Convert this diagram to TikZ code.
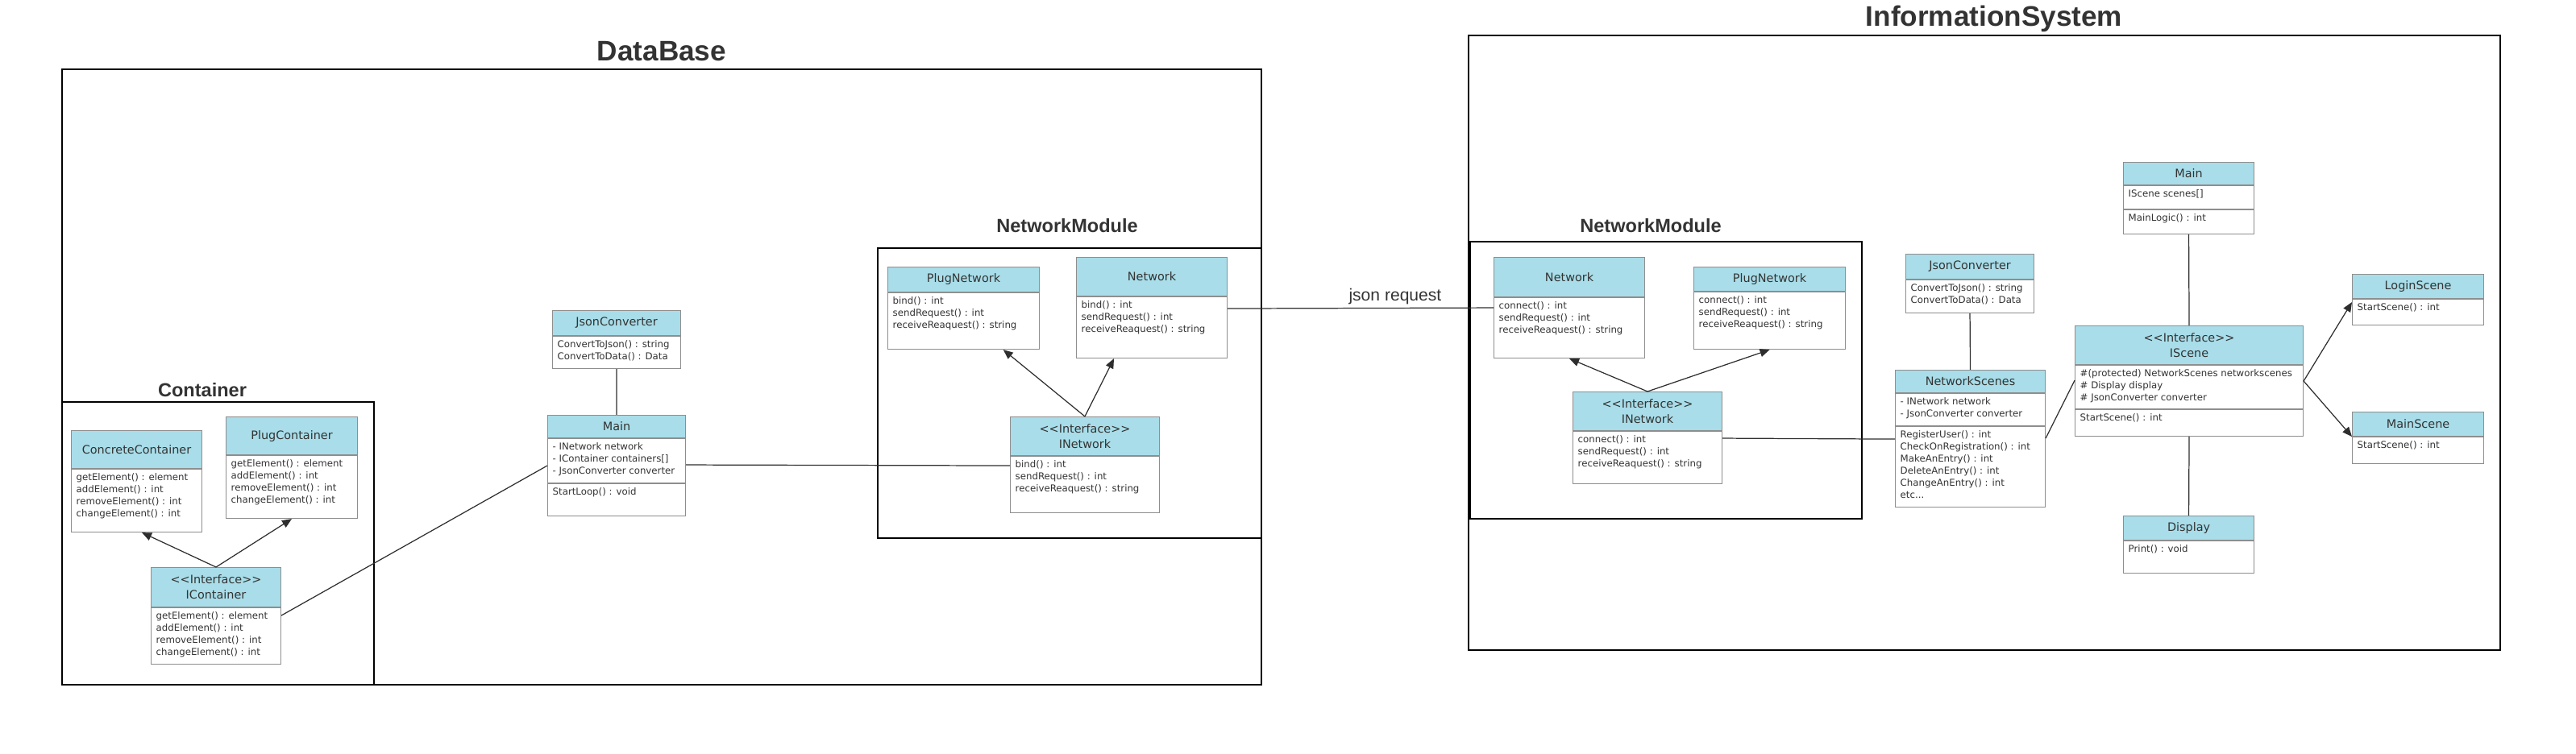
\documentclass[tikz,border=0pt]{standalone}
\usepackage{fontspec}
\usetikzlibrary{calc,arrows.meta}

\newfontfamily\umlfont{DejaVu Sans}[Ligatures=TeXOff]
\newfontfamily\titlefont{Liberation Sans}

\definecolor{headcyan}{HTML}{A8DDE9}
\definecolor{boxgray}{HTML}{8E8E8E}
\definecolor{textgray}{HTML}{333333}
\definecolor{linegray}{HTML}{2E2E2E}

\tikzset{
  umlhead/.style={draw=boxgray, line width=0.3pt, fill=headcyan, anchor=north west, inner sep=0.02cm,
    align=center, text=textgray, font=\umlfont\fontsize{4.1}{5.4}\selectfont},
  umlbody/.style={draw=boxgray, line width=0.3pt, fill=white, anchor=north west, inner sep=0pt},
  umltext/.style={anchor=north west, inner xsep=0.06cm, inner ysep=0.05cm, align=left,
    text=textgray, font=\umlfont\fontsize{3.35}{4.27}\selectfont},
  pkgframe/.style={draw=black, line width=0.55pt},
  pkgtitle/.style={anchor=base, text=textgray, font=\titlefont\bfseries\fontsize{10}{12}\selectfont},
  subtitle/.style={anchor=base, text=textgray, font=\titlefont\bfseries\fontsize{6.7}{8}\selectfont},
  assoc/.style={draw=linegray, line width=0.35pt},
  impl/.style={assoc, -{Triangle[length=0.12cm,width=0.1cm]}}
}

\begin{document}
\begin{tikzpicture}
  \useasboundingbox (0,0) rectangle (31.96,-9.36);

  % packages
  \draw[pkgframe] (0.77,-0.86) rectangle (15.65,-8.50);
  \node[pkgtitle] (dbtitle) at (8.21,-0.76) {DataBase};
  \draw[pkgframe] (0.77,-4.99) rectangle (4.64,-8.50);
  \node[subtitle] (cttitle) at (2.51,-4.93) {Container};
  \draw[pkgframe] (10.89,-3.08) rectangle (15.65,-6.68);
  \node[subtitle] (nmtitle) at (13.24,-2.89) {NetworkModule};
  \draw[pkgframe] (18.22,-0.44) rectangle (31.02,-8.07);
  \node[pkgtitle] (istitle) at (24.74,-0.33) {InformationSystem};
  \draw[pkgframe] (18.24,-3.00) rectangle (23.10,-6.44);
  \node[subtitle] (nm2title) at (20.48,-2.89) {NetworkModule};

  % DataBase classes
  \node[umlhead, minimum width=1.62cm, minimum height=0.47cm] (cc) at (0.88,-5.34) {ConcreteContainer};
  \node[umlbody, minimum width=1.62cm, minimum height=0.78cm] (cc-b) at (cc.south west) {};
  \node[umltext] (cc-t) at (cc-b.north west) {getElement() : element\\addElement() : int\\removeElement() : int\\changeElement() : int};

  \node[umlhead, minimum width=1.63cm, minimum height=0.47cm] (pc) at (2.80,-5.17) {PlugContainer};
  \node[umlbody, minimum width=1.63cm, minimum height=0.78cm] (pc-b) at (pc.south west) {};
  \node[umltext] (pc-t) at (pc-b.north west) {getElement() : element\\addElement() : int\\removeElement() : int\\changeElement() : int};

  \node[umlhead, minimum width=1.61cm, minimum height=0.49cm] (ic) at (1.87,-7.04) {<<Interface>>\\IContainer};
  \node[umlbody, minimum width=1.61cm, minimum height=0.70cm] (ic-b) at (ic.south west) {};
  \node[umltext] (ic-t) at (ic-b.north west) {getElement() : element\\addElement() : int\\removeElement() : int\\changeElement() : int};

  \node[umlhead, minimum width=1.59cm, minimum height=0.31cm] (jc) at (6.85,-3.85) {JsonConverter};
  \node[umlbody, minimum width=1.59cm, minimum height=0.40cm] (jc-b) at (jc.south west) {};
  \node[umltext] (jc-t) at (jc-b.north west) {ConvertToJson() : string\\ConvertToData() : Data};

  \node[umlhead, minimum width=1.71cm, minimum height=0.28cm] (main) at (6.79,-5.15) {Main};
  \node[umlbody, minimum width=1.71cm, minimum height=0.55cm] (main-a) at (main.south west) {};
  \node[umltext] (main-at) at (main-a.north west) {- INetwork network\\- IContainer containers[]\\- JsonConverter converter};
  \node[umlbody, minimum width=1.71cm, minimum height=0.40cm] (main-b) at (main-a.south west) {};
  \node[umltext] (main-bt) at (main-b.north west) {StartLoop() : void};

  \node[umlhead, minimum width=1.88cm, minimum height=0.31cm] (pn) at (11.01,-3.31) {PlugNetwork};
  \node[umlbody, minimum width=1.88cm, minimum height=0.70cm] (pn-b) at (pn.south west) {};
  \node[umltext] (pn-t) at (pn-b.north west) {bind() : int\\sendRequest() : int\\receiveReaquest() : string};

  \node[umlhead, minimum width=1.87cm, minimum height=0.48cm] (nw) at (13.35,-3.19) {Network};
  \node[umlbody, minimum width=1.87cm, minimum height=0.76cm] (nw-b) at (nw.south west) {};
  \node[umltext] (nw-t) at (nw-b.north west) {bind() : int\\sendRequest() : int\\receiveReaquest() : string};

  \node[umlhead, minimum width=1.85cm, minimum height=0.48cm] (in) at (12.53,-5.17) {<<Interface>>\\INetwork};
  \node[umlbody, minimum width=1.85cm, minimum height=0.70cm] (in-b) at (in.south west) {};
  \node[umltext] (in-t) at (in-b.north west) {bind() : int\\sendRequest() : int\\receiveReaquest() : string};

  % InformationSystem classes
  \node[umlhead, minimum width=1.87cm, minimum height=0.49cm] (nw2) at (18.53,-3.19) {Network};
  \node[umlbody, minimum width=1.87cm, minimum height=0.75cm] (nw2-b) at (nw2.south west) {};
  \node[umltext] (nw2-t) at (nw2-b.north west) {connect() : int\\sendRequest() : int\\receiveReaquest() : string};

  \node[umlhead, minimum width=1.88cm, minimum height=0.30cm] (pn2) at (21.01,-3.31) {PlugNetwork};
  \node[umlbody, minimum width=1.88cm, minimum height=0.71cm] (pn2-b) at (pn2.south west) {};
  \node[umltext] (pn2-t) at (pn2-b.north west) {connect() : int\\sendRequest() : int\\receiveReaquest() : string};

  \node[umlhead, minimum width=1.85cm, minimum height=0.48cm] (in2) at (19.51,-4.86) {<<Interface>>\\INetwork};
  \node[umlbody, minimum width=1.85cm, minimum height=0.65cm] (in2-b) at (in2.south west) {};
  \node[umltext] (in2-t) at (in2-b.north west) {connect() : int\\sendRequest() : int\\receiveReaquest() : string};

  \node[umlhead, minimum width=1.59cm, minimum height=0.31cm] (jc2) at (23.64,-3.15) {JsonConverter};
  \node[umlbody, minimum width=1.59cm, minimum height=0.41cm] (jc2-b) at (jc2.south west) {};
  \node[umltext] (jc2-t) at (jc2-b.north west) {ConvertToJson() : string\\ConvertToData() : Data};

  \node[umlhead, minimum width=1.86cm, minimum height=0.28cm] (ns) at (23.51,-4.59) {NetworkScenes};
  \node[umlbody, minimum width=1.86cm, minimum height=0.40cm] (ns-a) at (ns.south west) {};
  \node[umltext] (ns-at) at (ns-a.north west) {- INetwork network\\- JsonConverter converter};
  \node[umlbody, minimum width=1.86cm, minimum height=1.00cm] (ns-b) at (ns-a.south west) {};
  \node[umltext] (ns-bt) at (ns-b.north west) {RegisterUser() : int\\CheckOnRegistration() : int\\MakeAnEntry() : int\\DeleteAnEntry() : int\\ChangeAnEntry() : int\\etc...};

  \node[umlhead, minimum width=1.62cm, minimum height=0.28cm] (main2) at (26.34,-2.01) {Main};
  \node[umlbody, minimum width=1.62cm, minimum height=0.29cm] (main2-a) at (main2.south west) {};
  \node[umltext] (main2-at) at (main2-a.north west) {IScene scenes[]};
  \node[umlbody, minimum width=1.62cm, minimum height=0.30cm] (main2-b) at (main2-a.south west) {};
  \node[umltext] (main2-bt) at (main2-b.north west) {MainLogic() : int};

  \node[umlhead, minimum width=2.83cm, minimum height=0.48cm] (isc) at (25.74,-4.04) {<<Interface>>\\IScene};
  \node[umlbody, minimum width=2.83cm, minimum height=0.54cm] (isc-a) at (isc.south west) {};
  \node[umltext] (isc-at) at (isc-a.north west) {\#(protected) NetworkScenes networkscenes\\\# Display display\\\# JsonConverter converter};
  \node[umlbody, minimum width=2.83cm, minimum height=0.33cm] (isc-b) at (isc-a.south west) {};
  \node[umltext] (isc-bt) at (isc-b.north west) {StartScene() : int};

  \node[umlhead, minimum width=1.63cm, minimum height=0.30cm] (ls) at (29.18,-3.40) {LoginScene};
  \node[umlbody, minimum width=1.63cm, minimum height=0.32cm] (ls-b) at (ls.south west) {};
  \node[umltext] (ls-t) at (ls-b.north west) {StartScene() : int};

  \node[umlhead, minimum width=1.63cm, minimum height=0.30cm] (ms) at (29.18,-5.11) {MainScene};
  \node[umlbody, minimum width=1.63cm, minimum height=0.33cm] (ms-b) at (ms.south west) {};
  \node[umltext] (ms-t) at (ms-b.north west) {StartScene() : int};

  \node[umlhead, minimum width=1.62cm, minimum height=0.30cm] (dsp) at (26.34,-6.40) {Display};
  \node[umlbody, minimum width=1.62cm, minimum height=0.40cm] (dsp-b) at (dsp.south west) {};
  \node[umltext] (dsp-t) at (dsp-b.north west) {Print() : void};

  % connectors
  \draw[impl] (ic.north) -- ($(cc-b.south west)!.54!(cc-b.south east)$);
  \draw[impl] (ic.north) -- (pc-b.south);
  \draw[assoc] ($(ic-b.north east)+(0,-0.10)$) -- ($(main-a.north west)+(0,-0.34)$);
  \draw[assoc] (jc-b.south) -- (main.north);
  \draw[assoc] ($(main-a.north east)+(0,-0.33)$) -- ($(in-b.north west)+(0,-0.12)$);
  \draw[impl] (in.north) -- ($(pn-b.south west)!.76!(pn-b.south east)$);
  \draw[impl] (in.north) -- ($(nw-b.south west)!.25!(nw-b.south east)$);
  \draw[assoc] ($(nw-b.north east)+(0,-0.15)$) -- node[pos=0.63, above=0pt, inner sep=0.04cm, text=textgray,
    font=\titlefont\fontsize{6}{7}\selectfont] (jsonreq) {json request} ($(nw2-b.north west)+(0,-0.13)$);
  \draw[impl] (in2.north) -- (nw2-b.south);
  \draw[impl] (in2.north) -- (pn2-b.south);
  \draw[assoc] ($(in2-b.north east)+(0,-0.09)$) -- ($(ns-b.north west)+(0,-0.16)$);
  \draw[assoc] (jc2-b.south) -- (ns.north);
  \draw[assoc] ($(ns-b.north east)+(0,-0.15)$) -- ($(isc-a.north west)+(0,-0.19)$);
  \draw[assoc] (main2-b.south) -- (isc.north);
  \draw[impl] ($(isc-a.north east)+(0,-0.20)$) -- ($(ls-b.north west)+(0,-0.04)$);
  \draw[impl] ($(isc-a.north east)+(0,-0.20)$) -- (ms-b.north west);
  \draw[assoc] (isc-b.south) -- (dsp.north);
\end{tikzpicture}
\end{document}
